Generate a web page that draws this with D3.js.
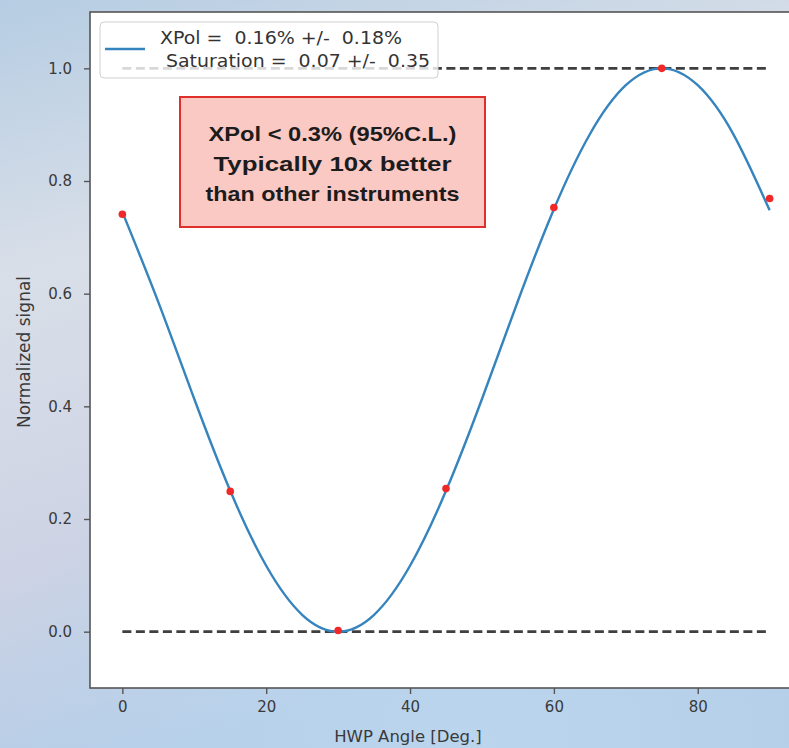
<!DOCTYPE html>
<html lang="en">

<head>
  <title>HWP angle scan</title>
  <meta charset="UTF-8">
  <script src="https://cdn.jsdelivr.net/npm/d3@7"></script>
  <style>
    body { margin: 0; }
    text { white-space: pre; }
  </style>
</head>

<body>
  <div class="container"></div>
  <script>
    // measured points (HWP angle in deg, normalized signal)
    var angles = [0, 15, 30, 45, 60, 75, 90];
    var signal = [0.741, 0.249, 0.002, 0.254, 0.753, 1.0, 0.769];

    // fitted curve, every 5 deg
    var fitAngles = [0, 5, 10, 15, 20, 25, 30, 35, 40, 45, 50, 55, 60, 65, 70, 75, 80, 85, 90];
    var fitSignal = [0.745, 0.585, 0.413, 0.25, 0.117, 0.03, 0.0, 0.03, 0.117, 0.25, 0.413, 0.587, 0.75, 0.883, 0.97, 1.0, 0.97, 0.882, 0.748];

    var refLevels = [0, 1];
    var xTicks = [0, 20, 40, 60, 80];
    var yTicks = [0, 0.2, 0.4, 0.6, 0.8, 1.0];
    var legendLines = ["XPol =  0.16% +/-  0.18%", "Saturation =  0.07 +/-  0.35"];
    var noteLines = ["XPol < 0.3% (95%C.L.)", "Typically 10x better", "than other instruments"];

    var W = 789, H = 748;
    var svg = d3.select('.container').append('svg')
      .attr('width', W)
      .attr('height', H);

    // slide background (watercolor-ish)
    var defs = svg.append('defs');
    var bg = defs.append('linearGradient').attr('id', 'bg')
      .attr('x1', 0).attr('y1', 0).attr('x2', 0.3).attr('y2', 1);
    bg.append('stop').attr('offset', 0).attr('stop-color', '#b6cde3');
    bg.append('stop').attr('offset', 0.35).attr('stop-color', '#d9dfe8');
    bg.append('stop').attr('offset', 0.7).attr('stop-color', '#cdd3e4');
    bg.append('stop').attr('offset', 1).attr('stop-color', '#b3cde8');
    var glow = defs.append('radialGradient').attr('id', 'glow')
      .attr('cx', 0.6).attr('cy', 1).attr('r', 0.6);
    glow.append('stop').attr('offset', 0).attr('stop-color', '#bcd6ee').attr('stop-opacity', 0.9);
    glow.append('stop').attr('offset', 1).attr('stop-color', '#bcd6ee').attr('stop-opacity', 0);
    svg.append('rect').attr('width', W).attr('height', H).attr('fill', 'url(#bg)');
    svg.append('rect').attr('width', W).attr('height', H).attr('fill', 'url(#glow)');

    // plot box (right edge runs past the window, as in the slide)
    var pL = 90, pT = 12, pR = 802, pB = 688;
    var x = d3.scaleLinear().domain([-4.5, 94.5]).range([pL, pR]);
    var y = d3.scaleLinear().domain([-0.1, 1.1]).range([pB, pT]);

    defs.append('clipPath').attr('id', 'plot')
      .append('rect').attr('x', pL).attr('y', pT)
      .attr('width', pR - pL).attr('height', pB - pT);

    svg.append('rect')
      .attr('x', pL).attr('y', pT)
      .attr('width', pR - pL).attr('height', pB - pT)
      .attr('fill', '#fff');

    var plot = svg.append('g').attr('clip-path', 'url(#plot)');

    // dashed reference levels
    plot.selectAll('.ref').data(refLevels).enter().append('line')
      .attr('class', 'ref')
      .attr('x1', x(0)).attr('x2', x(90))
      .attr('y1', function (d) { return y(d); })
      .attr('y2', function (d) { return y(d); })
      .attr('stroke', '#3f3f3f')
      .attr('stroke-width', 2.8)
      .attr('stroke-dasharray', '9,4.5');

    var fit = fitAngles.map(function (a, i) { return [a, fitSignal[i]]; });
    plot.append('path')
      .datum(fit)
      .attr('fill', 'none')
      .attr('stroke', '#3584be')
      .attr('stroke-width', 2.4)
      .attr('d', d3.line()
        .x(function (d) { return x(d[0]); })
        .y(function (d) { return y(d[1]); })
        .curve(d3.curveNatural));

    plot.selectAll('.pt').data(angles).enter().append('circle')
      .attr('class', 'pt')
      .attr('cx', function (d) { return x(d); })
      .attr('cy', function (d, i) { return y(signal[i]); })
      .attr('r', 3.8)
      .attr('fill', '#f02828');

    // frame
    svg.append('rect')
      .attr('x', pL).attr('y', pT)
      .attr('width', pR - pL).attr('height', pB - pT)
      .attr('fill', 'none')
      .attr('stroke', '#555')
      .attr('stroke-width', 1.6);

    var font = 'DejaVu Sans, sans-serif';
    var xAxis = svg.append('g')
      .attr('transform', 'translate(0,' + pB + ')')
      .call(d3.axisBottom(x).tickValues(xTicks).tickSize(6).tickPadding(7));
    var yAxis = svg.append('g')
      .attr('transform', 'translate(' + pL + ',0)')
      .call(d3.axisLeft(y).tickValues(yTicks).tickFormat(d3.format('.1f')).tickSize(6).tickPadding(12));
    [xAxis, yAxis].forEach(function (g) {
      g.select('.domain').remove();
      g.selectAll('line').attr('stroke', '#555').attr('stroke-width', 1.4);
      g.selectAll('text').attr('fill', '#3a3a3a')
        .style('font-family', font).style('font-size', '15px');
    });

    svg.append('text')
      .attr('x', 408).attr('y', 742)
      .attr('text-anchor', 'middle')
      .attr('fill', '#3a3a3a')
      .style('font-family', font).style('font-size', '16.5px')
      .text('HWP Angle [Deg.]');

    svg.append('text')
      .attr('transform', 'translate(30,352) rotate(-90)')
      .attr('text-anchor', 'middle')
      .attr('fill', '#3a3a3a')
      .style('font-family', font).style('font-size', '17px')
      .text('Normalized signal');

    // legend
    var lg = svg.append('g');
    lg.append('rect')
      .attr('x', 100).attr('y', 22).attr('width', 338).attr('height', 56).attr('rx', 4)
      .attr('fill', '#fff').attr('fill-opacity', 0.8)
      .attr('stroke', '#d0d0d0');
    lg.append('line')
      .attr('x1', 105).attr('x2', 145).attr('y1', 49).attr('y2', 49)
      .attr('stroke', '#3584be').attr('stroke-width', 2.6);
    lg.selectAll('.lt').data(legendLines).enter().append('text')
      .attr('class', 'lt')
      .attr('x', function (d, i) { return i ? 166 : 160; })
      .attr('y', function (d, i) { return 44 + i * 23; })
      .attr('textLength', function (d, i) { return i ? 264 : 242; })
      .attr('lengthAdjust', 'spacingAndGlyphs')
      .attr('fill', '#333')
      .style('font-family', font).style('font-size', '17px')
      .text(function (d) { return d; });

    // annotation box
    svg.append('rect')
      .attr('x', 180).attr('y', 97).attr('width', 305).attr('height', 130)
      .attr('fill', '#fbc9c4')
      .attr('stroke', '#e0302c').attr('stroke-width', 2);
    var noteWidths = [248, 238, 254];
    svg.selectAll('.note').data(noteLines).enter().append('text')
      .attr('class', 'note')
      .attr('x', 332.5)
      .attr('y', function (d, i) { return 141 + i * 30; })
      .attr('text-anchor', 'middle')
      .attr('textLength', function (d, i) { return noteWidths[i]; })
      .attr('lengthAdjust', 'spacingAndGlyphs')
      .attr('fill', '#1c1c1c')
      .style('font-family', 'Liberation Sans, Arial, sans-serif')
      .style('font-weight', 'bold')
      .style('font-size', '21px')
      .text(function (d) { return d; });
  </script>
</body>

</html>
